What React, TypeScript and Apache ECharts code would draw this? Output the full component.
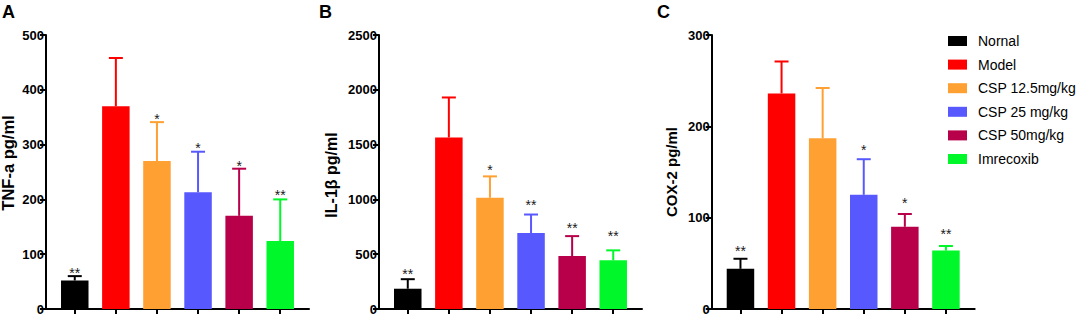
import React, { useEffect, useRef } from "react";
import * as echarts from "echarts";

const groups = ["Nornal", "Model", "CSP 12.5mg/kg", "CSP 25 mg/kg", "CSP 50mg/kg", "Imrecoxib"];
const colors = ["#000000", "#ff0000", "#ffa033", "#5858ff", "#b8004a", "#00f82a"];

// TNF-a
const tnfMean = [52, 370, 270, 213, 170, 124];
const tnfSD = [8, 88, 71, 74, 86, 76];
const tnfStars = ["**", "", "*", "*", "*", "**"];
const tnfStarY = [70, 0, 350, 297, 265, 212];
const tnfTicks = { max: 500, interval: 100 };

// IL-1β
const ilMean = [185, 1565, 1015, 693, 483, 444];
const ilSD = [87, 365, 195, 169, 182, 91];
const ilStars = ["**", "", "*", "**", "**", "**"];
const ilStarY = [340, 0, 1284, 964, 757, 682];
const ilTicks = { max: 2500, interval: 500 };

// COX-2
const coxMean = [44, 236, 187, 125, 90, 64];
const coxSD = [11, 35, 55, 39, 14, 5];
const coxStars = ["**", "", "", "*", "*", "**"];
const coxStarY = [66, 0, 0, 176, 118, 84];
const coxTicks = { max: 300, interval: 100 };

const panelLetters = ["A", "B", "C"];
const axisTitles = ["TNF-a pg/ml", "IL-1\u03b2 pg/ml", "COX-2 pg/ml"];

const FONT = "'Liberation Sans', Arial, Helvetica, sans-serif";

export default function App() {
  const ref = useRef<HTMLDivElement>(null);
  useEffect(() => {
    document.body.style.margin = "0";
    if (!ref.current) return;
    const chart = echarts.init(ref.current, null, { renderer: "svg" });

    const panels = [
      { mean: tnfMean, sd: tnfSD, stars: tnfStars, starY: tnfStarY, ticks: tnfTicks },
      { mean: ilMean, sd: ilSD, stars: ilStars, starY: ilStarY, ticks: ilTicks },
      { mean: coxMean, sd: coxSD, stars: coxStars, starY: coxStarY, ticks: coxTicks },
    ];
    const gridLefts = [46, 379, 711.7];
    const titlePos = [
      [8, 163],
      [331, 175],
      [671, 172],
    ];
    const titleSizes = [16.5, 16, 15];
    const letterPos = [2, 319, 657];

    const axisLineStyle = { color: "#000", width: 2 };
    const grid = gridLefts.map((l) => ({ left: l, top: 35, width: 263, height: 274 }));
    const xAxis = panels.map((_, i) => ({
      type: "value",
      gridIndex: i,
      min: -0.7,
      max: 5.7,
      axisLine: { show: true, onZero: false, lineStyle: axisLineStyle },
      axisTick: { show: true, customValues: [0, 1, 2, 3, 4, 5], length: 5, lineStyle: axisLineStyle },
      axisLabel: { show: false },
      splitLine: { show: false },
    }));
    const yAxis = panels.map((p, i) => ({
      type: "value",
      gridIndex: i,
      min: 0,
      max: p.ticks.max,
      interval: p.ticks.interval,
      axisLine: { show: true, onZero: false, lineStyle: axisLineStyle },
      axisTick: { show: true, length: 6, lineStyle: axisLineStyle },
      axisLabel: {
        color: "#000",
        fontWeight: "bold",
        fontSize: 13,
        fontFamily: FONT,
        margin: 2,
        formatter: (v: number) => String(v),
      },
      splitLine: { show: false },
    }));

    const series: any[] = [];
    panels.forEach((p, i) => {
      series.push({
        type: "bar",
        xAxisIndex: i,
        yAxisIndex: i,
        barWidth: 27.5,
        z: 2,
        data: p.mean.map((v, j) => ({ value: [j, v], itemStyle: { color: colors[j] } })),
      });
      series.push({
        type: "custom",
        xAxisIndex: i,
        yAxisIndex: i,
        z: 3,
        data: p.mean.map((v, j) => [j, v, v + p.sd[j]]),
        renderItem: (params: any, api: any) => {
          const j = params.dataIndex;
          const base = api.coord([j, p.mean[j]]);
          const top = api.coord([j, p.mean[j] + p.sd[j]]);
          const children: any[] = [
            {
              type: "line",
              shape: { x1: top[0], y1: base[1], x2: top[0], y2: top[1] },
              style: { stroke: colors[j], lineWidth: 2 },
            },
            {
              type: "line",
              shape: { x1: top[0] - 7, y1: top[1], x2: top[0] + 7, y2: top[1] },
              style: { stroke: colors[j], lineWidth: 2 },
            },
          ];
          if (p.stars[j]) {
            const sy = api.coord([j, p.starY[j]])[1];
            children.push({
              type: "text",
              x: top[0],
              y: sy + 2,
              style: {
                text: p.stars[j],
                fill: "#1a1a1a",
                font: `14px ${FONT}`,
                align: "center",
                verticalAlign: "middle",
              },
            });
          }
          return { type: "group", children };
        },
      });
    });

    const graphic: any[] = [];
    panelLetters.forEach((t, i) => {
      graphic.push({
        type: "text",
        left: letterPos[i],
        top: 3,
        style: { text: t, fill: "#000", font: `bold 18px ${FONT}` },
      });
      graphic.push({
        type: "text",
        x: titlePos[i][0],
        y: titlePos[i][1],
        rotation: Math.PI / 2,
        style: {
          text: axisTitles[i],
          fill: "#000",
          font: `bold ${titleSizes[i]}px ${FONT}`,
          align: "center",
          verticalAlign: "middle",
        },
      });
    });
    groups.forEach((g, j) => {
      graphic.push({
        type: "rect",
        shape: { x: 948, y: 36 + j * 23.6, width: 19, height: 10 },
        style: { fill: colors[j] },
      });
      graphic.push({
        type: "text",
        x: 978,
        y: 41 + j * 23.6,
        style: { text: g, fill: "#000", font: `14px ${FONT}`, verticalAlign: "middle" },
      });
    });

    chart.setOption({
      animation: false,
      backgroundColor: "#fff",
      grid,
      xAxis,
      yAxis,
      series,
      graphic,
    });
    return () => chart.dispose();
  }, []);
  return <div ref={ref} style={{ width: 1079, height: 316 }} />;
}
